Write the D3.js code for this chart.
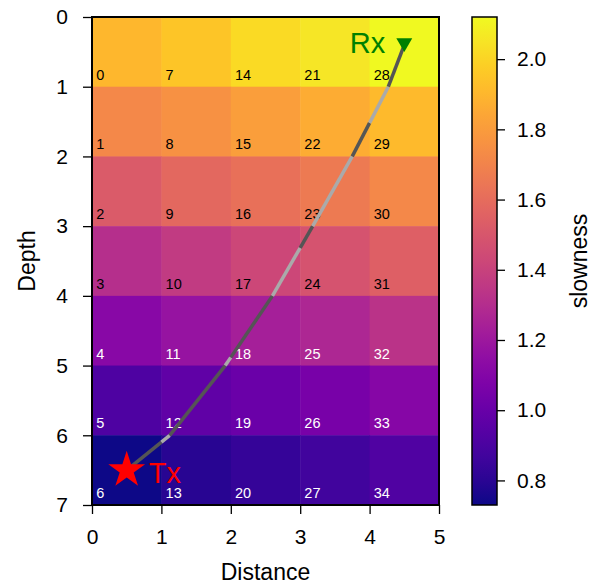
<!DOCTYPE html>
<html>
<head>
<meta charset="utf-8">
<script src="https://cdn.jsdelivr.net/npm/d3@7"></script>
<style>
  body { margin: 0; background: #fff; }
  svg { display: block; font-family: "Liberation Sans", Arial, Helvetica, sans-serif; }
  .tick text { font-size: 21px; fill: #000; }
  .tick line { stroke: #000; stroke-width: 1.3; }
  .domain { display: none; }
</style>
</head>
<body>
<div id="chart"></div>
<script>
// ── Data ────────────────────────────────────────────────────────────────
// slowness per cell, rows = depth layers (0..6), columns = distance (0..4)
const slowness = [
  [1.90, 1.95, 2.02, 2.06, 2.12],
  [1.72, 1.76, 1.81, 1.86, 1.91],
  [1.52, 1.58, 1.62, 1.66, 1.72],
  [1.31, 1.37, 1.43, 1.48, 1.54],
  [1.12, 1.17, 1.23, 1.27, 1.33],
  [0.91, 0.97, 1.01, 1.06, 1.11],
  [0.73, 0.79, 0.83, 0.87, 0.92],
];
// ray vertices (distance, depth) from source to receiver
const rayPath = [
  [0.5, 6.5], [1.12, 6.0], [1.92, 5.0], [2.6, 4.0],
  [3.18, 3.0], [3.75, 2.0], [4.27, 1.0], [4.5, 0.4],
];
const source = [0.5, 6.5];
const receiver = [4.5, 0.4];
const xTicks = [0, 1, 2, 3, 4, 5];
const yTicks = [0, 1, 2, 3, 4, 5, 6, 7];
const cbTicks = [0.8, 1.0, 1.2, 1.4, 1.6, 1.8, 2.0];

const nRows = slowness.length;
const nCols = slowness[0].length;

// ── Layout ──────────────────────────────────────────────────────────────
const W = 601, H = 587;
const plot = { left: 92, top: 17, width: 347, height: 488 };
const cb = { left: 472, top: 17, width: 25, height: 488 };

const svg = d3.select('#chart').append('svg')
  .attr('width', W).attr('height', H);

const x = d3.scaleLinear().domain([0, nCols]).range([plot.left, plot.left + plot.width]);
const y = d3.scaleLinear().domain([0, nRows]).range([plot.top, plot.top + plot.height]);

const flat = slowness.flat();
const vmin = d3.min(flat), vmax = d3.max(flat);
const color = d3.scaleSequential(d3.interpolatePlasma).domain([vmin, vmax]);

// ── Cells ───────────────────────────────────────────────────────────────
const cells = [];
slowness.forEach((row, r) => row.forEach((v, c) => {
  cells.push({ r, c, v, id: c * nRows + r });
}));

svg.append('g').selectAll('rect').data(cells).join('rect')
  .attr('x', d => x(d.c))
  .attr('y', d => y(d.r))
  .attr('width', x(1) - x(0) + 0.5)
  .attr('height', y(1) - y(0) + 0.5)
  .attr('fill', d => color(d.v));

svg.append('g').selectAll('text').data(cells).join('text')
  .attr('x', d => x(d.c + 0.06))
  .attr('y', d => y(d.r + 0.9))
  .attr('font-size', 14.5)
  .attr('fill', d => d.r >= 4 ? '#fff' : '#000')
  .text(d => d.id);

// ── Ray, split at cell boundaries, alternating shade per cell ────────────
function splitSegments(path) {
  const segs = [];
  for (let i = 0; i < path.length - 1; i++) {
    const [x0, y0] = path[i], [x1, y1] = path[i + 1];
    const ts = [0, 1];
    for (let k = 1; k < nCols; k++) {
      const t = (k - x0) / (x1 - x0);
      if (t > 0 && t < 1) ts.push(t);
    }
    ts.sort((a, b) => a - b);
    for (let j = 0; j < ts.length - 1; j++) {
      segs.push([
        [x0 + (x1 - x0) * ts[j], y0 + (y1 - y0) * ts[j]],
        [x0 + (x1 - x0) * ts[j + 1], y0 + (y1 - y0) * ts[j + 1]],
      ]);
    }
  }
  return segs;
}
const raySegs = splitSegments(rayPath);
svg.append('g').selectAll('line').data(raySegs).join('line')
  .attr('x1', d => x(d[0][0])).attr('y1', d => y(d[0][1]))
  .attr('x2', d => x(d[1][0])).attr('y2', d => y(d[1][1]))
  .attr('stroke', (d, i) => i % 2 === 0 ? '#555555' : '#aaaaaa')
  .attr('stroke-width', 3.5);

// ── Source / receiver ───────────────────────────────────────────────────
svg.append('path')
  .attr('d', d3.symbol().type(d3.symbolStar).size(420)())
  .attr('transform', `translate(${x(source[0])},${y(source[1])})`)
  .attr('fill', '#ff0000');
svg.append('text')
  .attr('x', x(source[0]) + 22).attr('y', y(source[1]) + 13)
  .attr('font-size', 29).attr('fill', '#ff0000')
  .text('Tx');

svg.append('path')
  .attr('d', d3.symbol().type(d3.symbolTriangle).size(110)())
  .attr('transform', `translate(${x(receiver[0])},${y(receiver[1]) - 2}) rotate(180)`)
  .attr('fill', '#008000');
svg.append('text')
  .attr('x', x(receiver[0]) - 19).attr('y', y(receiver[1]) + 8)
  .attr('text-anchor', 'end')
  .attr('font-size', 29).attr('fill', '#008000')
  .text('Rx');

// ── Frame & axes ────────────────────────────────────────────────────────
svg.append('rect')
  .attr('x', plot.left).attr('y', plot.top)
  .attr('width', plot.width).attr('height', plot.height)
  .attr('fill', 'none').attr('stroke', '#000').attr('stroke-width', 2);

svg.append('g')
  .attr('transform', `translate(0,${plot.top + plot.height})`)
  .call(d3.axisBottom(x).tickValues(xTicks).tickFormat(d3.format('d')).tickSize(9).tickPadding(15));

svg.append('g')
  .attr('transform', `translate(${plot.left},0)`)
  .call(d3.axisLeft(y).tickValues(yTicks).tickFormat(d3.format('d')).tickSize(9).tickPadding(15));

svg.append('text')
  .attr('x', x(2.5)).attr('y', 580)
  .attr('text-anchor', 'middle').attr('font-size', 23)
  .text('Distance');

svg.append('text')
  .attr('transform', `translate(35,${y(3.5)}) rotate(-90)`)
  .attr('text-anchor', 'middle').attr('font-size', 23)
  .text('Depth');

// ── Colorbar ────────────────────────────────────────────────────────────
const grad = svg.append('defs').append('linearGradient')
  .attr('id', 'cbgrad').attr('x1', 0).attr('y1', 1).attr('x2', 0).attr('y2', 0);
d3.range(0, 1.0001, 0.05).forEach(t => {
  grad.append('stop').attr('offset', t).attr('stop-color', d3.interpolatePlasma(t));
});

const cbScale = d3.scaleLinear().domain([vmin, vmax]).range([cb.top + cb.height, cb.top]);

svg.append('rect')
  .attr('x', cb.left).attr('y', cb.top)
  .attr('width', cb.width).attr('height', cb.height)
  .attr('fill', 'url(#cbgrad)')
  .attr('stroke', '#000').attr('stroke-width', 1.5);

svg.append('g')
  .attr('transform', `translate(${cb.left + cb.width},0)`)
  .call(d3.axisRight(cbScale).tickValues(cbTicks).tickFormat(d3.format('.1f')).tickSize(8).tickPadding(12));

svg.append('text')
  .attr('transform', `translate(587,${cb.top + cb.height / 2}) rotate(-90)`)
  .attr('text-anchor', 'middle').attr('font-size', 23)
  .text('slowness');
</script>
</body>
</html>
